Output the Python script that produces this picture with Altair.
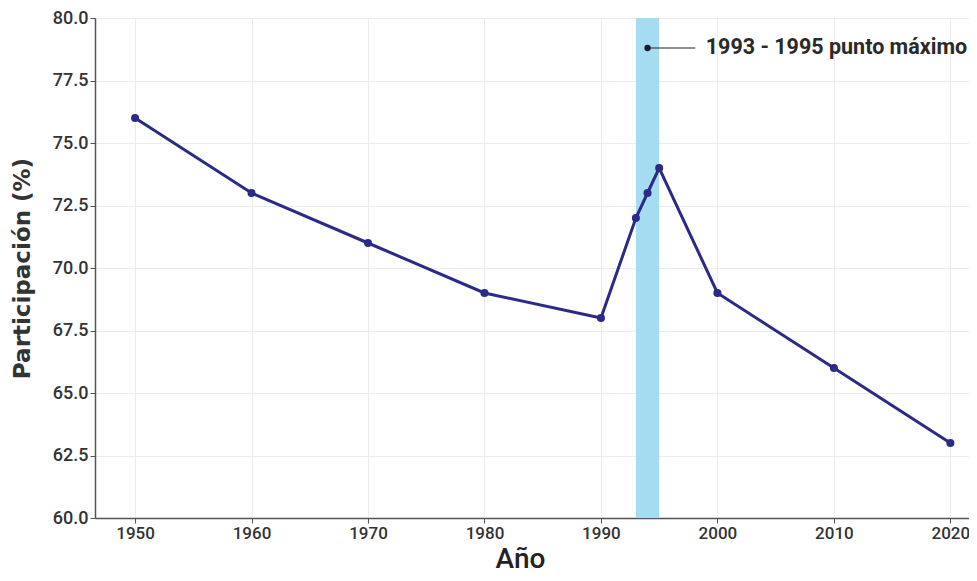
import altair as alt
import pandas as pd

# --- data ---
years = [1950, 1960, 1970, 1980, 1990, 1993, 1994, 1995, 2000, 2010, 2020]
values = [76, 73, 71, 69, 68, 72, 73, 74, 69, 66, 63]
band_start = [1993]
band_end = [1995]
band_low = [60]
band_high = [80]
x_ticks = [1950, 1960, 1970, 1980, 1990, 2000, 2010, 2020]
y_ticks = [60, 62.5, 65, 67.5, 70, 72.5, 75, 77.5, 80]
annot_label = ["1993 - 1995 punto máximo"]
annot_x = [1994]
annot_y = [78.8]
annot_line_end = [1998.1]
annot_text_x = [1999.0]

df = pd.DataFrame({"year": years, "value": values})
band_df = pd.DataFrame({"x": band_start, "x2": band_end, "y": band_low, "y2": band_high})
annot_df = pd.DataFrame({"x": annot_x, "y": annot_y, "xe": annot_line_end,
                         "xt": annot_text_x, "label": annot_label})

FONT = "Roboto"
xscale = alt.Scale(domain=[1946.56, 2021.6], nice=False, zero=False)
yscale = alt.Scale(domain=[60, 80], nice=False, zero=False)

xaxis = alt.Axis(values=x_ticks, format="d", title="Año", titleFontSize=28,
                 titleFontWeight=500, titlePadding=4, labelFontSize=17,
                 labelPadding=2, titleX=425, grid=True, titleColor="#222222")
yaxis = alt.Axis(values=y_ticks, format=".1f", title="Participación (%)",
                 titleFont="DejaVu Sans", titleFontSize=23, titleFontWeight="bold",
                 titlePadding=18, labelFontSize=18, labelPadding=2, grid=True)

band = alt.Chart(band_df).mark_rect(color="#a6dcf2", opacity=1).encode(
    x=alt.X("x:Q", scale=xscale, axis=xaxis),
    x2="x2:Q",
    y=alt.Y("y:Q", scale=yscale, axis=yaxis),
    y2="y2:Q",
)

line = alt.Chart(df).mark_line(color="#2b2a86", strokeWidth=3).encode(
    x=alt.X("year:Q", scale=xscale),
    y=alt.Y("value:Q", scale=yscale),
)
points = alt.Chart(df).mark_circle(color="#2b2a86", size=65, opacity=1).encode(
    x=alt.X("year:Q", scale=xscale),
    y=alt.Y("value:Q", scale=yscale),
)

annot_rule = alt.Chart(annot_df).mark_rule(color="#222222", strokeWidth=1.2).encode(
    x=alt.X("x:Q", scale=xscale), x2="xe:Q", y=alt.Y("y:Q", scale=yscale)
)
annot_dot = alt.Chart(annot_df).mark_circle(color="#1a1a2a", size=40, opacity=1).encode(
    x=alt.X("x:Q", scale=xscale), y=alt.Y("y:Q", scale=yscale)
)
annot_text = alt.Chart(annot_df).mark_text(
    align="left", baseline="middle", font=FONT, fontSize=21.5, fontWeight="bold",
    color="#2a2a2a"
).encode(x=alt.X("xt:Q", scale=xscale), y=alt.Y("y:Q", scale=yscale), text="label:N")

chart = alt.layer(band, line, points, annot_rule, annot_dot, annot_text).properties(
    width=874, height=500,
    autosize=alt.AutoSizeParams(type="none"),
    padding={"left": 87, "top": 10, "right": 0, "bottom": 55},
).configure(font=FONT).configure_axis(
    domainColor="#555555", domainWidth=1.5, tickColor="#555555", tickSize=5,
    labelColor="#333333", titleColor="#333333", gridColor="#ececec",
    labelFont=FONT, titleFont=FONT, labelFontWeight=500,
).configure_view(stroke=None)

chart.save("out.html", embed_options={"renderer": "svg", "actions": False})
